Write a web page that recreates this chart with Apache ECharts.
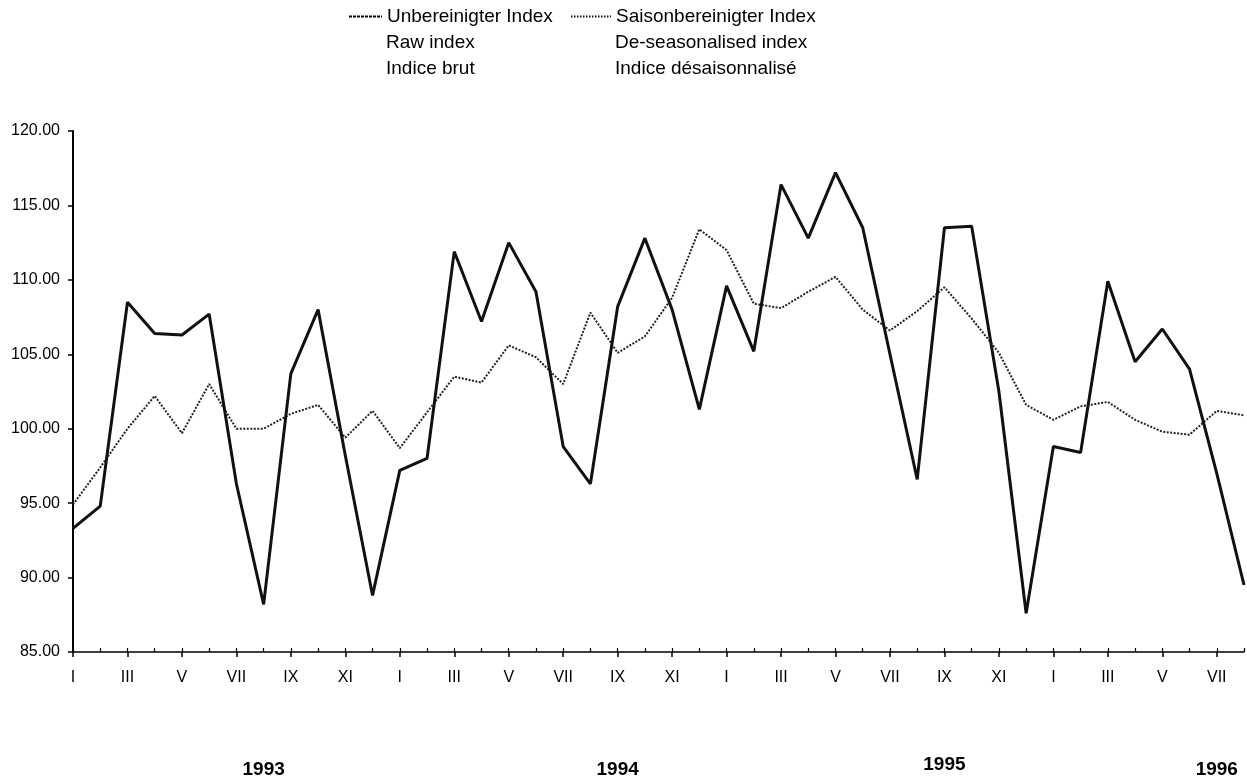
<!DOCTYPE html>
<html>
<head>
<meta charset="utf-8">
<script src="https://cdn.jsdelivr.net/npm/echarts@6/dist/echarts.min.js"></script>
<style>
  * { margin: 0; padding: 0; }
  body { background: #fff; }
  #chart { width: 1247px; height: 780px; }
</style>
</head>
<body>
<div id="chart"></div>
<script>
  // monthly data, I 1993 .. VIII 1996
  const years = ['1993', '1994', '1995', '1996'];
  const monthNumerals = ['I', 'II', 'III', 'IV', 'V', 'VI', 'VII', 'VIII', 'IX', 'X', 'XI', 'XII'];
  const monthsInLastYear = 8;
  // month index under which each year label is printed
  const yearLabelAt = [7, 20, 32, 42];

  const rawNames = ['Unbereinigter Index', 'Raw index', 'Indice brut'];
  const saNames = ['Saisonbereinigter Index', 'De-seasonalised index', 'Indice désaisonnalisé'];

  const rawIndex = [
    93.3, 94.8, 108.5, 106.4, 106.3, 107.7, 96.3, 88.2, 103.7, 108.0, 98.2, 88.8,
    97.2, 98.0, 111.9, 107.2, 112.5, 109.2, 98.8, 96.3, 108.2, 112.8, 108.0, 101.3,
    109.6, 105.2, 116.4, 112.8, 117.2, 113.5, 105.0, 96.6, 113.5, 113.6, 102.5, 87.6,
    98.8, 98.4, 109.9, 104.5, 106.7, 104.0, 97.0, 89.5
  ];
  const saIndex = [
    94.9, 97.4, 100.0, 102.2, 99.7, 103.0, 100.0, 100.0, 101.0, 101.6, 99.4, 101.2,
    98.7, 101.1, 103.5, 103.1, 105.6, 104.8, 103.0, 107.8, 105.1, 106.2, 108.8, 113.4,
    112.0, 108.4, 108.1, 109.2, 110.2, 108.0, 106.6, 107.9, 109.5, 107.4, 105.1, 101.6,
    100.6, 101.5, 101.8, 100.6, 99.8, 99.6, 101.2, 100.9
  ];

  const yTicks = { min: 85, max: 120, interval: 5 };

  const categories = [];
  years.forEach((y, yi) => {
    const n = yi === years.length - 1 ? monthsInLastYear : 12;
    for (let m = 0; m < n; m++) categories.push(y + '-' + monthNumerals[m]);
  });

  const font = "'Liberation Sans', Arial, sans-serif";
  const chart = echarts.init(document.getElementById('chart'));

  const yearStyle = { fontSize: 19, fontWeight: 'bold', color: '#000', fontFamily: font };

  const option = {
    animation: false,
    backgroundColor: '#fff',
    textStyle: { fontFamily: font, color: '#000' },
    grid: { left: 73, right: 3, top: 131, bottom: 128 },
    legend: [
      {
        data: [rawNames[0]],
        left: 348, top: 7, padding: 0,
        itemWidth: 33, itemHeight: 14,
        textStyle: { fontSize: 19, color: '#000', fontFamily: font },
        itemStyle: { opacity: 0 },
        lineStyle: { type: [3, 1], width: 2, color: '#000' }
      },
      {
        data: [saNames[0]],
        left: 570, top: 7, padding: 0,
        itemWidth: 40, itemHeight: 14,
        textStyle: { fontSize: 19, color: '#000', fontFamily: font },
        itemStyle: { opacity: 0 },
        lineStyle: { type: [1.5, 1.5], width: 2, color: '#111' }
      }
    ],
    graphic: [
      { type: 'text', left: 386, top: 30, style: { text: rawNames.slice(1).join('\n'), font: '19px ' + font, lineHeight: 26, fill: '#000' } },
      { type: 'text', left: 615, top: 30, style: { text: saNames.slice(1).join('\n'), font: '19px ' + font, lineHeight: 26, fill: '#000' } }
    ],
    xAxis: [
      {
        type: 'category',
        data: categories,
        boundaryGap: false,
        axisLine: { lineStyle: { color: '#000', width: 1.5 } },
        axisTick: { interval: 1, length: 5, lineStyle: { color: '#000', width: 1.5 } },
        axisLabel: {
          interval: 1, margin: 18, fontSize: 16, color: '#000', fontFamily: font,
          formatter: v => v.split('-')[1]
        },
        splitLine: { show: false }
      },
      {
        type: 'category',
        data: categories,
        boundaryGap: false,
        position: 'bottom',
        axisLine: { show: false },
        axisTick: { interval: 0, inside: true, length: 4, lineStyle: { color: '#000', width: 1.2 } },
        axisLabel: { show: false },
        splitLine: { show: false }
      },
      {
        type: 'category',
        data: categories,
        boundaryGap: false,
        position: 'bottom',
        offset: 100,
        axisLine: { show: false },
        axisTick: { show: false },
        axisLabel: {
          interval: i => yearLabelAt.indexOf(i) >= 0,
          margin: 3,
          ...yearStyle,
          formatter: v => {
            const y = v.split('-')[0];
            return y === '1995' ? '{up|' + y + '}' : '{low|' + y + '}';
          },
          rich: {
            up: { ...yearStyle },
            low: { ...yearStyle, padding: [5, 0, 0, 0] }
          }
        },
        splitLine: { show: false }
      }
    ],
    yAxis: {
      type: 'value',
      min: yTicks.min, max: yTicks.max, interval: yTicks.interval,
      axisLine: { show: true, lineStyle: { color: '#000', width: 2 } },
      axisTick: { show: true, length: 5, lineStyle: { color: '#000', width: 1.5 } },
      axisLabel: { margin: 13, fontSize: 16, color: '#000', fontFamily: font, formatter: v => v.toFixed(2) },
      splitLine: { show: false }
    },
    series: [
      {
        name: rawNames[0],
        type: 'line',
        data: rawIndex,
        symbol: 'none',
        itemStyle: { color: '#000' },
        lineStyle: { color: '#111', width: 3 },
        z: 3
      },
      {
        name: saNames[0],
        type: 'line',
        data: saIndex,
        symbol: 'none',
        itemStyle: { color: '#000' },
        lineStyle: { color: '#222', width: 2, type: [2, 1.5] },
        z: 2
      }
    ]
  };

  chart.setOption(option);
</script>
</body>
</html>
